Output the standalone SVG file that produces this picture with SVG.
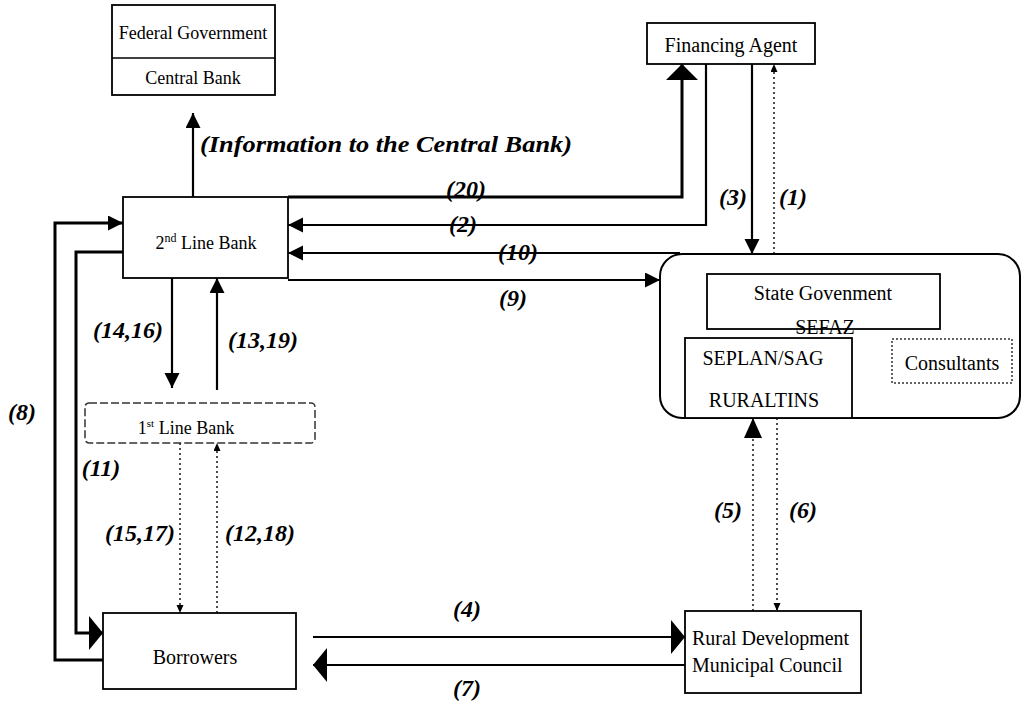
<svg xmlns="http://www.w3.org/2000/svg" width="1030" height="704" viewBox="0 0 1030 704">
<style>
.box{fill:#fff;stroke:#000;stroke-width:1.8}
.dash{fill:#fff;stroke:#333;stroke-width:1.5;stroke-dasharray:8,3}
.dotbox{fill:#fff;stroke:#333;stroke-width:1.5;stroke-dasharray:2,2}
.grp{fill:none;stroke:#000;stroke-width:2}
.t{font-family:"Liberation Serif","Times New Roman",serif;font-size:20px;fill:#000;text-anchor:middle}
.lbl{font-family:"Liberation Serif","Times New Roman",serif;font-size:24px;font-weight:bold;font-style:italic;fill:#000;text-anchor:middle}
.ln{fill:none;stroke:#000;stroke-width:2.2}
.thk{fill:none;stroke:#000;stroke-width:3}
.dot{fill:none;stroke:#222;stroke-width:1.6;stroke-dasharray:2,3}
</style>
<defs>
<marker id="ah" markerUnits="userSpaceOnUse" markerWidth="16" markerHeight="16" refX="15" refY="7.5" orient="auto"><path d="M0,0 L15,7.5 L0,15 z" fill="#000"/></marker>
<marker id="big" markerUnits="userSpaceOnUse" markerWidth="16" markerHeight="36" refX="14" refY="17" orient="auto"><path d="M0,0 L14,17 L0,34 z" fill="#000"/></marker>
<marker id="wide" markerUnits="userSpaceOnUse" markerWidth="18" markerHeight="34" refX="16" refY="16" orient="auto"><path d="M0,0 L16,16 L0,32 z" fill="#000"/></marker>
<marker id="mid" markerUnits="userSpaceOnUse" markerWidth="22" markerHeight="20" refX="20" refY="9" orient="auto"><path d="M0,0 L20,9 L0,18 z" fill="#000"/></marker>
<marker id="sm" markerUnits="userSpaceOnUse" markerWidth="9" markerHeight="9" refX="8" refY="3.5" orient="auto"><path d="M0,0 L8,3.5 L0,7 z" fill="#000"/></marker>
</defs>

<g id="connectors">
<!-- Information to Central Bank -->
<path class="ln" d="M193,197 L193,113" marker-end="url(#ah)"/>
<!-- (20) -->
<path class="thk" d="M288,197 L682,197 L682,64" marker-end="url(#wide)"/>
<!-- (2) -->
<path class="ln" d="M706,64 L706,225 L288,225" marker-end="url(#ah)"/>
<!-- (3) -->
<path class="ln" d="M752,64 L752,254" marker-end="url(#ah)"/>
<!-- (1) -->
<path class="dot" d="M774,254 L774,64" marker-end="url(#sm)"/>
<!-- (10) -->
<path class="ln" d="M680,253 L288,253" marker-end="url(#ah)"/>
<!-- (9) -->
<path class="ln" d="M288,280 L660,280" marker-end="url(#ah)"/>
<!-- (14,16) -->
<path class="ln" d="M172,278 L172,388" marker-end="url(#ah)"/>
<!-- (13,19) -->
<path class="ln" d="M217,390 L217,278" marker-end="url(#ah)"/>
<!-- (15,17) -->
<path class="dot" d="M180,443 L180,613" marker-end="url(#sm)"/>
<!-- (12,18) -->
<path class="dot" d="M217,613 L217,443" marker-end="url(#sm)"/>
<!-- (8) -->
<path class="thk" d="M103,660 L55,660 L55,223 L123,223" marker-end="url(#ah)"/>
<!-- (11) -->
<path class="thk" d="M123,252 L76,252 L76,633 L103,633" marker-end="url(#big)"/>
<!-- (4) -->
<path class="ln" d="M313,637 L685,637" marker-end="url(#big)"/>
<!-- (7) -->
<path class="ln" d="M685,665 L313,665" marker-end="url(#big)"/>
<!-- (5) -->
<path class="dot" d="M753,611 L753,418" marker-end="url(#mid)"/>
<!-- (6) -->
<path class="dot" d="M777,418 L777,611" marker-end="url(#sm)"/>
</g>

<g id="labels">
<text class="lbl" x="386" y="152" style="text-anchor:middle" textLength="372" lengthAdjust="spacingAndGlyphs">(Information to the Central Bank)</text>
<text class="lbl" x="466" y="197">(20)</text>
<text class="lbl" x="463" y="232">(2)</text>
<text class="lbl" x="518" y="260">(10)</text>
<text class="lbl" x="513" y="306">(9)</text>
<text class="lbl" x="733" y="205">(3)</text>
<text class="lbl" x="793" y="205">(1)</text>
<text class="lbl" x="128" y="338">(14,16)</text>
<text class="lbl" x="263" y="348">(13,19)</text>
<text class="lbl" x="22" y="420">(8)</text>
<text class="lbl" x="101" y="476">(11)</text>
<text class="lbl" x="140" y="541">(15,17)</text>
<text class="lbl" x="260" y="541">(12,18)</text>
<text class="lbl" x="467" y="617">(4)</text>
<text class="lbl" x="467" y="696">(7)</text>
<text class="lbl" x="728" y="518">(5)</text>
<text class="lbl" x="803" y="518">(6)</text>
</g>

<g id="federal">
<rect class="box" x="112" y="5" width="163" height="90"/>
<line x1="112" y1="58" x2="275" y2="58" stroke="#000" stroke-width="1.5"/>
<text class="t" x="193" y="39" style="font-size:18px">Federal Government</text>
<text class="t" x="193" y="84" style="font-size:18px">Central Bank</text>
</g>

<g id="financing-agent">
<rect class="box" x="647" y="23" width="168" height="41"/>
<text class="t" x="731" y="52">Financing Agent</text>
</g>

<g id="second-line-bank">
<rect class="box" x="123" y="197" width="165" height="81"/>
<text class="t" x="206" y="249" style="font-size:18px">2<tspan dy="-7" style="font-size:12px">nd</tspan><tspan dy="7"> Line Bank</tspan></text>
</g>

<g id="first-line-bank">
<rect class="dash" x="85" y="403" width="230" height="40" rx="4"/>
<text class="t" x="186" y="434" style="font-size:18px">1<tspan dy="-7" style="font-size:11px">st</tspan><tspan dy="7"> Line Bank</tspan></text>
</g>

<g id="state-group">
<rect class="grp" x="660" y="254" width="360" height="164" rx="22"/>
</g>

<g id="state-government">
<rect class="box" x="707" y="274" width="233" height="55"/>
<text class="t" x="823" y="300">State Govenment</text>
<text class="t" x="825" y="334">SEFAZ</text>
</g>

<g id="seplan">
<rect class="box" x="685" y="338" width="167" height="80"/>
<text class="t" x="763" y="365">SEPLAN/SAG</text>
<text class="t" x="764" y="407">RURALTINS</text>
</g>

<g id="consultants">
<rect class="dotbox" x="892" y="339" width="120" height="44"/>
<text class="t" x="952" y="370">Consultants</text>
</g>

<g id="borrowers">
<rect class="box" x="103" y="613" width="193" height="76"/>
<text class="t" x="195" y="664">Borrowers</text>
</g>

<g id="rural-council">
<rect class="box" x="685" y="611" width="176" height="82"/>
<text class="t" x="692" y="645" style="text-anchor:start">Rural Development</text>
<text class="t" x="692" y="672" style="text-anchor:start">Municipal Council</text>
</g>
</svg>
